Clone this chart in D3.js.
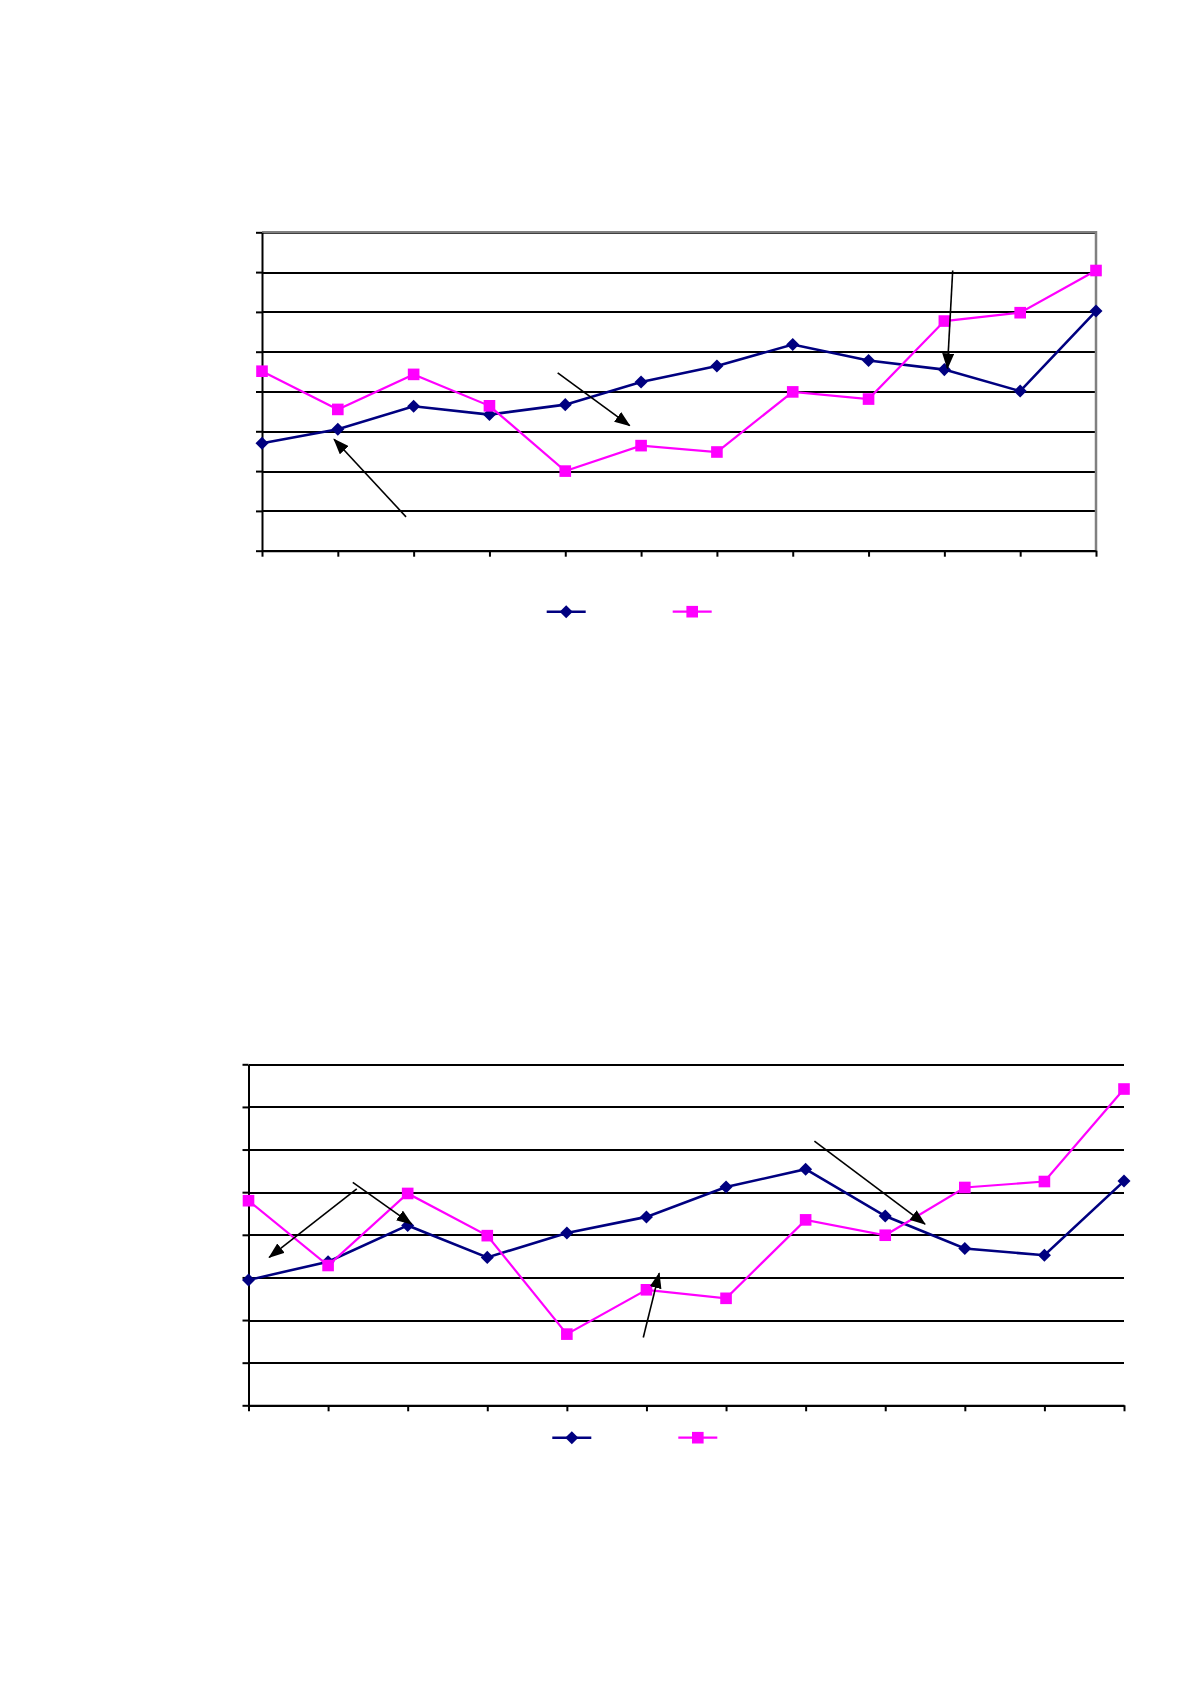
<!DOCTYPE html>
<html>
<head>
<meta charset="utf-8">
<script src="https://cdn.jsdelivr.net/npm/d3@7"></script>
<style>
    body { margin: 0; background: #fff; }
    svg { display: block; }
</style>
</head>
<body>
<svg id="page" width="1191" height="1684"></svg>
<script>
/**********************************************
 *
 * two line charts, no labels
 *
 **********************************************/

// 12 categories per chart, value axis 0..8 (8 grid steps)
const categories = d3.range(12)
const yTicks = d3.range(0, 9)

// chart 1
const topBlue = [2.70, 3.05, 3.63, 3.42, 3.67, 4.24, 4.64, 5.18, 4.78, 4.55, 4.01, 6.02]
const topPink = [4.51, 3.55, 4.43, 3.64, 2.00, 2.64, 2.48, 3.99, 3.81, 5.77, 5.98, 7.04]
// arrows: [x0, y0, x1, y1] in data units, head at the second point
const topArrows = [
    [1.90, 0.85, 0.95, 2.80],
    [3.90, 4.47, 4.85, 3.14],
    [9.11, 7.04, 9.04, 4.58]
]

// chart 2
const bottomBlue = [2.94, 3.37, 4.22, 3.47, 4.04, 4.42, 5.12, 5.54, 4.44, 3.68, 3.52, 5.26]
const bottomPink = [4.80, 3.28, 4.97, 3.98, 1.67, 2.71, 2.51, 4.35, 3.99, 5.11, 5.25, 7.42]
const bottomArrows = [
    [1.36, 5.08, 0.26, 3.47],
    [1.31, 5.23, 2.05, 4.25],
    [4.96, 1.59, 5.16, 3.10],
    [7.11, 6.20, 8.50, 4.25]
]

const blue = "#000080"
const pink = "#ff00ff"

const svg = d3.select("#page")

// arrow head
svg.append("defs").append("marker")
    .attr("id", "head")
    .attr("markerUnits", "userSpaceOnUse")
    .attr("viewBox", "0 0 16 12")
    .attr("refX", 15)
    .attr("refY", 6)
    .attr("markerWidth", 16)
    .attr("markerHeight", 12)
    .attr("orient", "auto")
    .append("path")
    .attr("d", "M0,0L16,6L0,12Z")
    .attr("fill", "#000")

const diamondPath = d3.symbol(d3.symbolSquare, 85)()
const squarePath = d3.symbol(d3.symbolSquare, 135)()

function drawChart(opt) {
    const innerWidth = opt.right - opt.left
    const innerHeight = opt.bottom - opt.top

    const g = svg.append("g")
        .attr("transform", `translate(${opt.left}, ${opt.top})`)

    // Scale
    const xScale = d3.scaleLinear().domain([0, categories.length - 1]).range([0, innerWidth])
    const yScale = d3.scaleLinear().domain([0, 8]).range([innerHeight, 0])

    // grid
    g.append("g")
        .attr("class", "y grid")
        .call(d3.axisLeft(yScale).tickValues(yTicks).tickSize(-innerWidth).tickFormat(""))
        .call(s => s.select(".domain").remove())
        .call(s => s.selectAll("line")
            .attr("stroke", "#000").attr("stroke-width", 2)
            .attr("shape-rendering", "crispEdges"))

    // plot area border (top + right) on the first chart
    if (opt.border) {
        g.append("path")
            .attr("d", `M0,0H${innerWidth}V${innerHeight}`)
            .attr("fill", "none")
            .attr("stroke", "#808080")
            .attr("stroke-width", 2.5)
    }

    // axes
    g.append("g")
        .attr("class", "y axis")
        .call(d3.axisLeft(yScale).tickValues(yTicks).tickSize(6).tickSizeOuter(0).tickFormat(""))
        .call(s => s.selectAll("line, path").attr("stroke", "#000").attr("stroke-width", 2))
    g.append("g")
        .attr("class", "x axis")
        .attr("transform", `translate(0, ${innerHeight})`)
        .call(d3.axisBottom(xScale).tickValues(categories).tickSize(6).tickSizeOuter(0).tickFormat(""))
        .call(s => s.selectAll("line, path").attr("stroke", "#000").attr("stroke-width", 2))

    const line = d3.line()
        .x((d, i) => xScale(i))
        .y(d => yScale(d))

    const series = [
        { values: opt.blue, color: blue, width: 2.6, symbol: "diamond" },
        { values: opt.pink, color: pink, width: 2.2, symbol: "square" }
    ]

    series.forEach(s => {
        g.append("path")
            .datum(s.values)
            .attr("class", "line")
            .attr("fill", "none")
            .attr("stroke", s.color)
            .attr("stroke-width", s.width)
            .attr("d", line)

        g.append("g").selectAll("path")
            .data(s.values)
            .enter()
            .append("path")
            .attr("d", s.symbol === "diamond" ? diamondPath : squarePath)
            .attr("transform", (d, i) => `translate(${xScale(i)}, ${yScale(d)})` + (s.symbol === "diamond" ? " rotate(45)" : ""))
            .attr("fill", s.color)
    })

    // arrows
    g.append("g").selectAll("line")
        .data(opt.arrows)
        .enter()
        .append("line")
        .attr("x1", d => xScale(d[0]))
        .attr("y1", d => yScale(d[1]))
        .attr("x2", d => xScale(d[2]))
        .attr("y2", d => yScale(d[3]))
        .attr("stroke", "#000")
        .attr("stroke-width", 1.6)
        .attr("marker-end", "url(#head)")

    // legend (no text, just swatches)
    const legend = svg.append("g")
        .attr("transform", `translate(${opt.legendX}, ${opt.legendY})`)
    series.forEach((s, i) => {
        const lx = i * 126
        legend.append("line")
            .attr("x1", lx).attr("x2", lx + 39)
            .attr("stroke", s.color)
            .attr("stroke-width", s.width)
        legend.append("path")
            .attr("d", s.symbol === "diamond" ? diamondPath : squarePath)
            .attr("transform", `translate(${lx + 19.5}, 0)` + (s.symbol === "diamond" ? " rotate(45)" : ""))
            .attr("fill", s.color)
    })
}

drawChart({
    left: 262, right: 1096, top: 232.3, bottom: 550.7,
    blue: topBlue, pink: topPink, arrows: topArrows, border: true,
    legendX: 546.7, legendY: 611.7
})

drawChart({
    left: 248.5, right: 1124, top: 1064.3, bottom: 1405.3,
    blue: bottomBlue, pink: bottomPink, arrows: bottomArrows, border: false,
    legendX: 552.3, legendY: 1437.7
})
</script>
</body>
</html>
